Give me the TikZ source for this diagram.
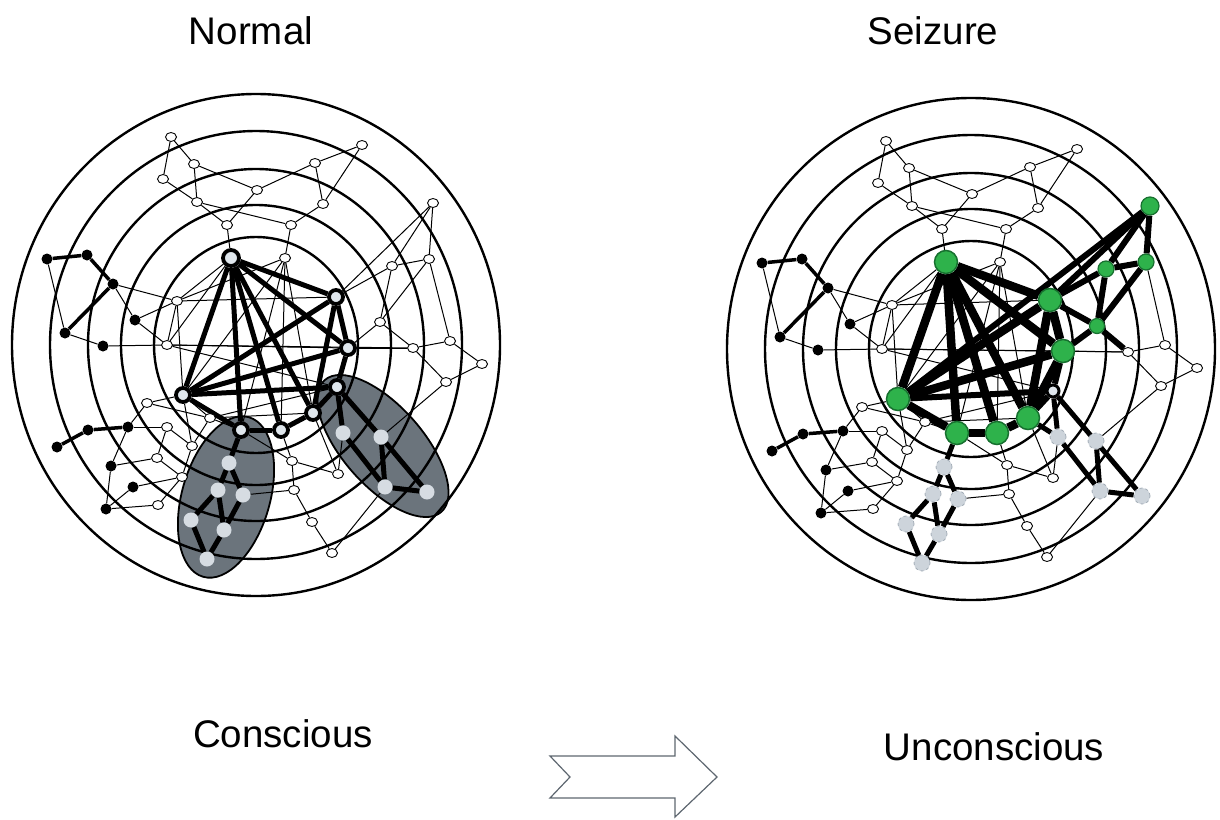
\documentclass[tikz,border=0pt]{standalone}
\usepackage{fontspec}
\setmainfont{Liberation Sans}
\usetikzlibrary{shapes.geometric}
\pgfdeclarelayer{lA}\pgfdeclarelayer{lB}\pgfsetlayers{lA,lB,main}
\definecolor{hubfill}{HTML}{DFE6EC}
\definecolor{gfill}{HTML}{D6DCE2}
\definecolor{gdfill}{HTML}{CDD4DB}
\definecolor{gdline}{HTML}{A3ADB7}
\definecolor{grn}{HTML}{2EB24B}
\definecolor{grnd}{HTML}{17702F}
\definecolor{ellf}{HTML}{6B747C}
\definecolor{arrc}{HTML}{5E6770}
\tikzset{
 opn/.style={ellipse,draw=black,line width=0.9pt,fill=white,minimum width=11pt,minimum height=9pt,inner sep=0pt},
 blk/.style={circle,fill=black,minimum size=11pt,inner sep=0pt},
 hub/.style={circle,draw=black,line width=3.8pt,fill=hubfill,minimum size=14pt,inner sep=0pt},
 gnode/.style={circle,fill=gfill,minimum size=15pt,inner sep=0pt},
 gdnode/.style={circle,fill=gdfill,draw=gdline,dashed,line width=0.8pt,minimum size=16pt,inner sep=0pt},
 gbig/.style={circle,fill=grn,draw=grnd,line width=1.5pt,minimum size=23pt,inner sep=0pt},
 gsmall/.style={circle,fill=grn,draw=grnd,line width=1.2pt,minimum size=16pt,inner sep=0pt},
 hubR/.style={circle,draw=black,line width=3pt,fill=hubfill,minimum size=12pt,inner sep=0pt},
 thn/.style={line width=1pt},
 blkedge/.style={line width=3.5pt},
 hubedge/.style={line width=5pt},
 hubedgeR/.style={line width=8.5pt},
 bedgeR/.style={line width=6pt},
 gedge/.style={line width=5pt},
 ring/.style={line width=2.4pt},
 ellst/.style={fill=ellf,draw=black,line width=1.8pt},
 ttl/.style={font=\fontsize{38.5}{46}\selectfont,anchor=base,inner sep=0pt},
}
\newcommand\rings[2]{%
 \foreach \rx/\ry in {244/251,206/214,168/176,135/140,102/108}
  \draw[ring] (#1,#2) ellipse [x radius=\rx pt, y radius=\ry pt];}
\newcommand\sharednodes[1]{%
 \foreach \n/\x/\y in {a1/171/137,a2/194/164,a3/163/179,a4/197/202,a5/257/190,a6/227/225,a7/315/163,a8/362/145,a9/323/204,a10/291/225,a11/285/258,b5/450/341,b6/413/348,b7/482/364,b8/446/382,c1/177/301,c2/167/345,d1/147/403,d2/167/427,d3/192/446,d4/157/458,d5/182/477,d6/158/505,d7/210/418,e1/292/461,e2/338/474,e3/294/490,e4/312/522,e5/332/553}
  \node[opn] (#1\n) at (\x,\y) {};
 \foreach \n/\x/\y in {k1/47/259,k2/87/255,k3/113/284,k4/65/333,k5/135/320,k6/103/346,k7/88/430,k8/57/447,k9/128/427,k10/111/466,k11/133/487,k12/106/509}
  \node[blk] (#1\n) at (\x,\y) {};}
\newcommand\sharededges[1]{%
 \foreach \u/\v in {a1/a2,a1/a3,a2/a4,a2/a5,a3/a4,a4/a6,a5/a6,a5/a7,a7/a8,a7/a9,a8/a9,a9/a10,a4/a10,a10/a11,a6/H1,a11/H6,a11/H7,a11/c1,c1/c2,c1/k3,c1/k5,c1/H2,c2/k5,c2/k6,c2/b6,c2/H1,c2/H3,k4/k6,k1/k4,k3/k5,b5/b6,b5/b7,b7/b8,b6/b8,b6/H3,d1/H4,d1/k9,d2/k9,d2/d3,d2/d4,d3/d5,d4/d5,d4/k10,d5/k11,d6/k12,d6/d5,d3/d7,d7/H4,d7/H5,d3/H4,d7/H8,k10/k12,k11/k12,e1/e2,e1/e3,e3/e4,e4/e5,e1/H6,e2/H7,e5/h3,e3/g3,a11/H4,d1/d7,e2/h1,c1/H4,c2/H8,d7/H7,a11/H5,e1/H5,b8/h2,c1/H1,k9/k10}
  \draw[thn] (#1\u) -- (#1\v);
 \foreach \u/\v in {k1/k2,k2/k3,k3/k4,k7/k8,k7/k9}
  \draw[blkedge] (#1\u) -- (#1\v);}
\begin{document}
\begin{tikzpicture}[x=1pt,y=-1pt]
\begin{pgfonlayer}{lA}
 \fill[white] (0,0) rectangle (1220,819);
\end{pgfonlayer}
\useasboundingbox (0,0) rectangle (1220,819);
% titles
\node[ttl] (tN) at (251,44) {Normal};
\node[ttl] (tS) at (933,44) {Seizure};
\node[ttl] (tC) at (283,747) {Conscious};
\node[ttl] (tU) at (994,760) {Unconscious};
% arrow
\draw[arrc,line width=1.2pt,line join=miter] (550,756) -- (675,756) -- (675,736) -- (717,777) -- (675,817) -- (675,798) -- (550,798) -- (570,777) -- cycle;
% ===== LEFT =====
\begin{pgfonlayer}{lA}
 \draw[ellst,rotate around={-16:(226,497)}] (226,497) ellipse [x radius=44pt, y radius=83pt];
 \draw[ellst,rotate around={-48.5:(383,446)}] (383,446) ellipse [x radius=88pt, y radius=40pt];
 \rings{256}{345}
 \rings{971}{349}
\end{pgfonlayer}
\sharednodes{L}
\foreach \n/\x/\y in {b1/433/203,b2/392/266,b3/429/259,b4/380/322}
 \node[opn] (L\n) at (\x,\y) {};
\foreach \n/\x/\y in {g1/229/463,g2/218/490,g3/243/495,g4/191/520,g5/224/530,g6/207/559,h1/343/433,h2/381/437,h3/385/487,h4/427/492}
 \node[gnode] (L\n) at (\x,\y) {};
\node[hub,minimum size=16pt] (LH1) at (231,258) {};
\foreach \n/\x/\y in {H2/336/297,H3/348/348,H4/183/395,H5/241/430,H6/281/430,H7/313/413,H8/337/387}
 \node[hub] (L\n) at (\x,\y) {};
\begin{pgfonlayer}{lB}
 \sharededges{L}
 \foreach \u/\v in {b1/b3,b1/b2,b1/H2,b2/b3,b2/b4,b3/b4,b2/H2,b3/b5,b4/b6,b4/H3}
  \draw[thn] (L\u) -- (L\v);
 \foreach \u/\v in {H1/H2,H1/H4,H1/H5,H1/H6,H1/H7,H1/H3,H2/H3,H2/H4,H3/H4,H4/H8,H4/H5,H5/H6,H6/H7,H7/H8,H8/H3,H2/H7}
  \draw[hubedge] (L\u) -- (L\v);
 \foreach \u/\v in {H5/g1,g1/g2,g1/g3,g2/g4,g3/g5,g2/g5,g4/g6,g5/g6,H8/h1,H8/h2,h1/h3,h2/h3,h2/h4,h3/h4}
  \draw[gedge] (L\u) -- (L\v);
\end{pgfonlayer}
% ===== RIGHT =====
\begin{scope}[shift={(715,4)}]
\sharednodes{R}
\foreach \n/\x/\y in {g1/229/463,g2/218/490,g3/243/495,g4/191/520,g5/224/530,g6/207/559,h1/343/433,h2/381/437,h3/385/487,h4/427/492}
 \node[gdnode] (R\n) at (\x,\y) {};
\node[gsmall,minimum size=18pt] (Rb1) at (435,202) {};
\node[gsmall] (Rb2) at (391,265) {};
\node[gsmall] (Rb3) at (431,258) {};
\node[gsmall,minimum size=15pt] (Rb4) at (382,322) {};
\foreach \n/\x/\y in {H1/231/258,H2/335/296,H3/348/347,H4/183/395,H5/242/429,H6/282/429,H7/313/414}
 \node[gbig] (R\n) at (\x,\y) {};
\node[hubR] (RH8) at (338,387) {};
\end{scope}
\begin{pgfonlayer}{lB}
 \sharededges{R}
 \draw[thn] (Rb3) -- (Rb5);
 \foreach \u/\v in {b1/b2,b1/b3,b1/H2,b1/H4,b2/b3,b2/b4,b3/b4,b2/H2,b4/H2,b4/H3,b4/b6}
  \draw[bedgeR] (R\u) -- (R\v);
 \foreach \u/\v in {H1/H2,H1/H4,H1/H5,H1/H6,H1/H7,H1/H3,H2/H3,H2/H4,H3/H4,H4/H5,H5/H6,H6/H7,H2/H7,H3/H7}
  \draw[hubedgeR] (R\u) -- (R\v);
 \foreach \u/\v in {H4/H8,H7/H8,H8/H3}
  \draw[bedgeR] (R\u) -- (R\v);
 \foreach \u/\v in {H5/g1,g1/g2,g1/g3,g2/g4,g2/g5,g3/g5,g4/g6,g5/g6,H8/h1,H8/h4,h1/h3,h2/h3,h3/h4,H7/h1}
  \draw[gedge] (R\u) -- (R\v);
\end{pgfonlayer}
\end{tikzpicture}
\end{document}
